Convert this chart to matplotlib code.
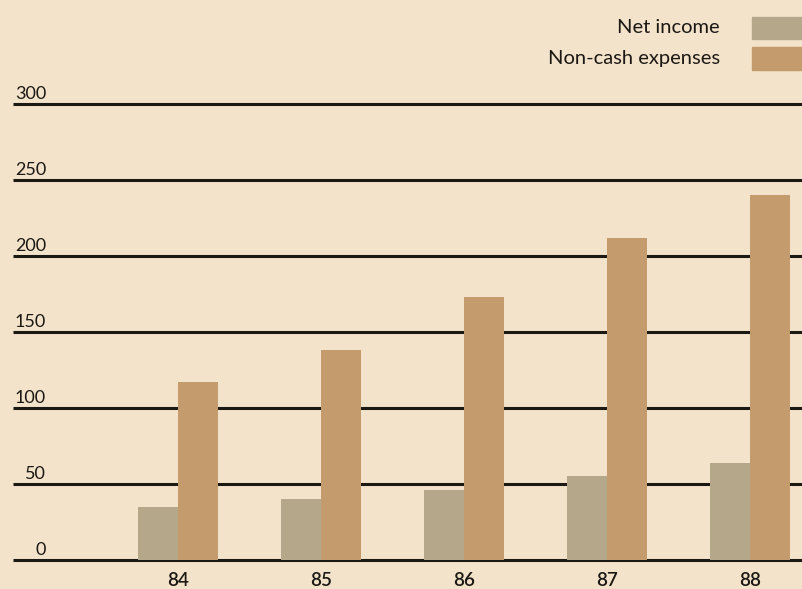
import matplotlib.pyplot as plt
from matplotlib.patches import Rectangle

# Net income vs non-cash expenses, years 84-88
years = ['84', '85', '86', '87', '88']
net_income = [35, 40, 46, 55, 64]
non_cash = [117, 138, 173, 212, 240]
ticks = [0, 50, 100, 150, 200, 250, 300]

BG = '#f3e3cb'
C_NET = '#b5a789'
C_NONCASH = '#c39b6c'
INK = '#1c1814'

plt.rcParams['font.family'] = ['Lato', 'DejaVu Sans']

fig = plt.figure(figsize=(8.03, 5.89), dpi=100, facecolor=BG)
ax = fig.add_axes([0, 0, 1, 1], facecolor=BG)
# axes fill the whole page; limits picked so the plot sits like the scan
x0, x1 = -1.245, 4.37
y0, y1 = -19.1, 368.4
ax.set_xlim(x0, x1)
ax.set_ylim(y0, y1)
ax.axis('off')

# horizontal rules + labels sitting on top of them
ax.hlines(ticks, x0 + 13 / 143, x1, color=INK, lw=2.2, zorder=1)
for t in ticks:
  ax.text(x0 + 46 / 143, t + 3, str(t), ha='right', va='baseline',
          fontsize=13, color=INK)

xs = range(len(years))
w = 0.28
ax.bar([x - w / 2 for x in xs], net_income, width=w, color=C_NET, zorder=2)
ax.bar([x + w / 2 for x in xs], non_cash, width=w, color=C_NONCASH, zorder=2)

for x, yr in zip(xs, years):
  ax.text(x, -13.8, yr, ha='center', va='center', fontsize=13.5,
          fontweight='semibold', color=INK)

# legend: label on the left, swatch on the right (runs off the page)
legend_rows = [('Net income', C_NET, 350), ('Non-cash expenses', C_NONCASH, 330)]
for label, col, yc in legend_rows:
  ax.text(x0 + 720 / 143, yc, label, ha='right', va='center', fontsize=14.5, color=INK)
  ax.add_patch(Rectangle((x0 + 752 / 143, yc - 7.4), 0.45, 14.8, color=col,
                         clip_on=False, zorder=3))

fig.savefig('out.png', dpi=100, facecolor=BG)
